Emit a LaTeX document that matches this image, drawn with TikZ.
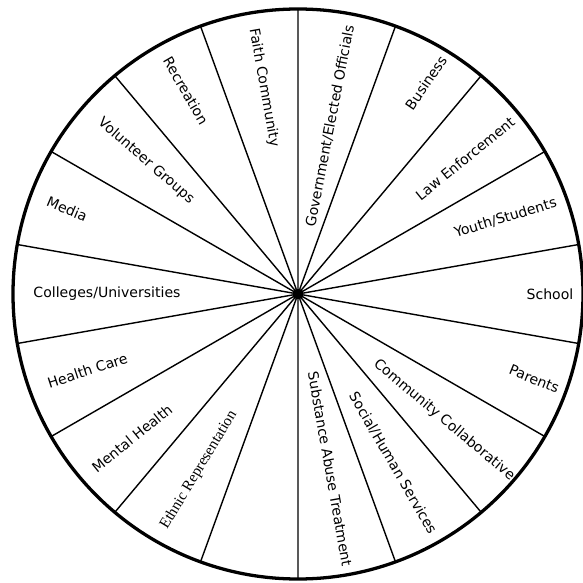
\documentclass[tikz,border=0pt]{standalone}
\usepackage{fontspec}
\setmainfont{DejaVu Sans}
\newfontfamily\timesface{Liberation Serif}
\usepackage{tikz}

\begin{document}
\begin{tikzpicture}[x = 0.03cm, y = 0.03cm]
		\def\r{285};
		\tikzset{
			wedge text/.style = {font = \fontsize{12}{14}\selectfont, inner sep = 0pt},
			spoke/.style = {line width = 1.2pt},
		}
		
		\useasboundingbox (-298,-289) rectangle (285,294);
		
		\coordinate (hub) at (0,0);
		
		\draw [spoke] (hub) -- (10:\r) (hub) -- (30:\r) (hub) -- (50:\r) (hub) -- (70:\r)
			(hub) -- (90:\r) (hub) -- (110:\r) (hub) -- (130:\r) (hub) -- (150:\r)
			(hub) -- (170:\r) (hub) -- (190:\r) (hub) -- (210:\r) (hub) -- (230:\r)
			(hub) -- (250:\r) (hub) -- (270:\r) (hub) -- (290:\r) (hub) -- (310:\r)
			(hub) -- (330:\r) (hub) -- (350:\r);
		\draw [line width = 2.8pt] (hub) circle [radius = \r];
		\fill (hub) circle [radius = 5];
		
		\node [wedge text] (school) at (0:252) {School};
		\node [wedge text, rotate = 17] (youth) at (20.2:221) {Youth/Students};
		\node [wedge text, rotate = 39] (law) at (39:215) {Law Enforcement};
		\node [wedge text, rotate = 56] (business) at (58.8:247) {Business};
		\node [wedge text, rotate = 79] (government) at (79.2:171) {Government/Elected Officials};
		\node [wedge text, rotate = -80] (faith) at (99.4:209) {Faith Community};
		\node [wedge text, rotate = -60] (recreation) at (118.9:232) {Recreation};
		\node [wedge text, rotate = -41] (volunteer) at (138.8:202) {Volunteer Groups};
		\node [wedge text, rotate = -23] (media) at (159.8:246) {Media};
		\node [wedge text] (colleges) at (180:191) {Colleges/Universities};
		\node [wedge text, rotate = 18] (health care) at (200:224) {Health Care};
		\node [wedge text, rotate = 39] (mental health) at (221:220) {Mental Health};
		\node [wedge text, font = \timesface\fontsize{13}{15}\selectfont, rotate = 59] (ethnic) at (240.6:202) {Ethnic Representation};
		\node [wedge text, rotate = -80] (substance) at (280.4:178) {Substance Abuse Treatment};
		\node [wedge text, rotate = -60] (social) at (299.3:194) {Social/Human Services};
		\node [wedge text, rotate = -40] (collaborative) at (319.2:193) {Community Collaborative};
		\node [wedge text, rotate = -22] (parents) at (340.2:251) {Parents};
	\end{tikzpicture}
\end{document}
